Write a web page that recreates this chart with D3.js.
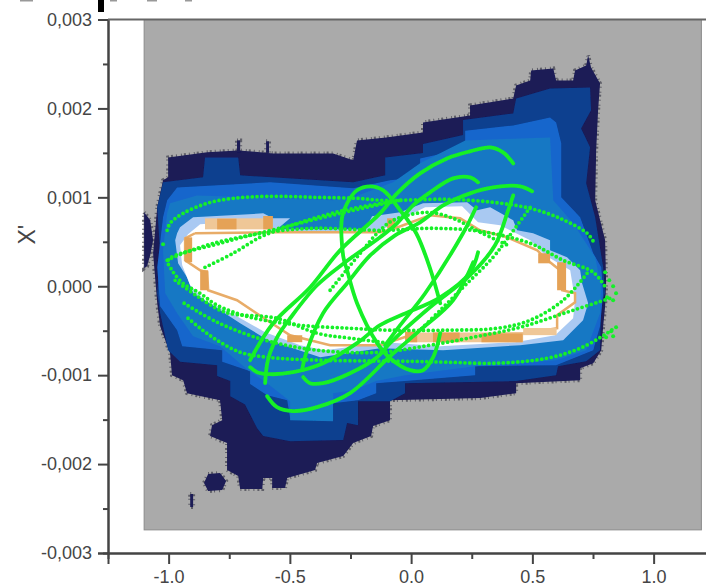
<!DOCTYPE html>
<html>
<head>
<meta charset="utf-8">
<script src="https://cdn.jsdelivr.net/npm/d3@7"></script>
<style>
  html, body { margin: 0; background: #fff; overflow: hidden; }
  svg { display: block; }
  text { font-family: "Liberation Sans", Arial, sans-serif; fill: #454545; }
</style>
</head>
<body>
<svg width="706" height="587"></svg>
<script>
// all positions are [x, X' in units of 0.001]

const xTicks = [-1.0, -0.5, 0.0, 0.5, 1.0];
const xMinorTicks = [-0.75, -0.25, 0.25, 0.75];
const yTicks = [-3, -2, -1, 0, 1, 2, 3];
const yMinorTicks = [-2.5, -1.5, -0.5, 0.5, 1.5, 2.5];
const yLabel = "X'";

// extent of the grey map
const mapX = [-1.101, 1.197];
const mapY = [-2.74, 3];

const levelNavy = [[-1.002,1.449],[-.841,1.506],[-.713,1.528],[-.569,1.494],[-.458,1.494],[-.322,1.494],[-.239,1.416],[-.223,1.64],[-.103,1.674],[.049,1.73],[.049,1.843],[.243,1.921],[.243,2.034],[.421,2.112],[.433,2.258],[.491,2.315],[.495,2.427],[.586,2.449],[.598,2.315],[.668,2.315],[.676,2.427],[.722,2.483],[.73,2.596],[.742,2.461],[.779,2.281],[.771,1.978],[.763,1.528],[.759,.966],[.8,.517],[.804,.034],[.8,-.225],[.792,-.449],[.784,-.719],[.751,-.865],[.697,-.921],[.697,-1.056],[.433,-1.09],[.433,-1.202],[.285,-1.258],[-.087,-1.281],[-.087,-1.506],[-.157,-1.573],[-.165,-1.685],[-.239,-1.764],[-.28,-1.91],[-.388,-1.989],[-.396,-2.067],[-.511,-2.157],[-.52,-2.27],[-.573,-2.27],[-.573,-2.157],[-.61,-2.157],[-.614,-2.281],[-.705,-2.281],[-.713,-2.135],[-.759,-2.067],[-.759,-1.764],[-.829,-1.685],[-.821,-1.562],[-.779,-1.506],[-.788,-1.281],[-.924,-1.202],[-.94,-1.056],[-.986,-1],[-.994,-.753],[-1.035,-.449],[-1.047,-.191],[-1.064,.371],[-1.047,.888],[-1.023,1.191],[-1.002,1.225]];
const navyBulge = [[-1.101,.831],[-1.076,.742],[-1.064,.517],[-1.076,.348],[-1.089,.225],[-1.101,.202]];
const navyBlob = [[-.837,-2.112],[-.788,-2.101],[-.763,-2.191],[-.779,-2.292],[-.837,-2.303],[-.854,-2.213]];
const navyMark = [[-.911,-2.337],[-.899,-2.337],[-.899,-2.483],[-.911,-2.483]];
const navySpikeA = [[-.718,1.64],[-.705,1.64],[-.705,1.5],[-.718,1.5]];
const navySpikeB = [[-.598,1.63],[-.586,1.63],[-.586,1.5],[-.598,1.5]];

const levelDark = [[-1.023,1.169],[-.858,1.225],[-.85,1.449],[-.713,1.449],[-.705,1.247],[-.239,1.169],[-.107,1.247],[-.107,1.449],[.049,1.5],[.049,1.6],[.214,1.7],[.214,1.87],[.421,1.944],[.433,2.112],[.573,2.225],[.738,2.236],[.742,1.978],[.701,1.775],[.738,1.562],[.722,1.157],[.759,.775],[.792,.213],[.8,-.079],[.784,-.191],[.779,-.719],[.722,-.843],[.606,-.899],[.598,-1],[.433,-1.067],[-.025,-1.09],[-.025,-1.202],[-.087,-1.292],[-.219,-1.292],[-.219,-1.562],[-.264,-1.539],[-.28,-1.73],[-.499,-1.742],[-.61,-1.685],[-.635,-1.596],[-.685,-1.33],[-.746,-1.236],[-.746,-1.067],[-.8,-1.01],[-.8,-.888],[-.953,-.85],[-1.002,-.719],[-1.035,-.303],[-1.047,-.079],[-1.035,.371],[-1.047,.888]];

const levelMid = [[-1.006,.966],[-.965,1.112],[-.581,1.169],[-.239,1.101],[-.087,1.191],[.037,1.225],[.037,1.438],[.223,1.55],[.223,1.75],[.421,1.809],[.573,1.899],[.598,1.843],[.619,1.607],[.619,1],[.697,.775],[.751,.371],[.784,.213],[.792,-.079],[.779,-.449],[.751,-.719],[.598,-.888],[.264,-.899],[.264,-1],[-.025,-1.067],[-.144,-1.09],[-.144,-1.202],[-.219,-1.281],[-.322,-1.315],[-.322,-1.506],[-.499,-1.483],[-.511,-1.281],[-.594,-1.225],[-.664,-1.1],[-.664,-.955],[-.779,-.85],[-.779,-.719],[-.944,-.674],[-.965,-.494],[-1.035,-.225],[-1.047,.213],[-1.023,.775]];

const levelBright = [[-.994,.933],[-.883,1.022],[-.322,.966],[-.239,1],[-.074,1.169],[.037,1.382],[.223,1.64],[.573,1.674],[.586,.966],[.668,.708],[.759,.326],[.784,-.011],[.779,-.303],[.722,-.719],[.598,-.831],[.264,-.899],[-.025,-1],[-.144,-1.067],[-.239,-1.169],[-.322,-1.202],[-.322,-1.517],[-.499,-1.506],[-.499,-1.292],[-.594,-1.09],[-.672,-.944],[-.788,-.674],[-.899,-.562],[-.965,-.303],[-1.014,-.079],[-1.023,.404],[-1.006,.82]];

const levelPale = [[-.965,.596],[-.953,.663],[-.899,.775],[-.61,.82],[-.569,.764],[-.499,.764],[-.553,.64],[-.417,.64],[-.19,.64],[-.161,.787],[-.045,.831],[.049,.933],[.231,.944],[.272,.854],[.326,.888],[.421,.742],[.437,.629],[.503,.596],[.573,.517],[.573,.404],[.643,.326],[.697,.18],[.705,.034],[.73,-.191],[.709,-.382],[.627,-.607],[.45,-.663],[.132,-.719],[-.128,-.697],[-.375,-.798],[-.487,-.697],[-.59,-.607],[-.705,-.416],[-.8,-.247],[-.899,-.079],[-.924,.101],[-.961,.258],[-.973,.517]];

const levelWhite = [[-.92,.584],[-.87,.697],[-.614,.742],[-.573,.62],[-.128,.62],[-.066,.719],[.058,.888],[.21,.899],[.276,.719],[.367,.685],[.491,.517],[.553,.348],[.656,.18],[.676,-.157],[.668,-.36],[.594,-.551],[.429,-.629],[.12,-.674],[-.107,-.629],[-.355,-.719],[-.458,-.663],[-.602,-.517],[-.726,-.326],[-.85,-.157],[-.911,.011],[-.944,.236],[-.953,.461]];

const orangeRing = [[-.891,.596],[-.932,.539],[-.932,.292],[-.87,.18],[-.841,.157],[-.837,-.045],[-.718,-.157],[-.594,-.382],[-.499,-.551],[-.334,-.663],[-.128,-.663],[-.016,-.562],[.47,-.528],[.602,-.472],[.602,-.326],[.676,-.18],[.676,-.079],[.623,-.045],[.614,.18],[.573,.27],[.52,.404],[.396,.551],[.284,.629],[.202,.764],[.078,.798],[-.066,.652],[-.128,.607],[-.569,.607],[-.891,.596]];

// [x0, x1, y0, y1]
const paleOrangeBlocks = [[-.85,-.581,.764,.64],[-.016,.462,-.52,-.63],[.462,.6,-.47,-.55]];
const orangeBlocks = [[-.8,-.72,.76,.64],[-.61,-.57,.79,.64],[-.099,-.066,.764,.652],[-.932,-.903,.55,.27],[-.87,-.837,.18,-.045],[-.511,-.449,-.551,-.629],[-.025,.025,-.51,-.63],[.09,.2,-.52,-.63],[.29,.46,-.53,-.63],[.524,.573,.371,.258],[.602,.639,.27,-.045]];

// sampled orbits, dots spaced apart
const orbitA = [[-1.006,.629],[-.994,.708],[-.94,.82],[-.841,.933],[-.734,.989],[-.594,1.011],[-.388,1],[-.223,.989],[-.115,.966],[.148,.978],[.338,.944],[.491,.876],[.614,.764],[.726,.596],[.751,.506]];
const orbitB = [[-.92,-.36],[-.87,-.472],[-.8,-.607],[-.705,-.742],[-.594,-.798],[-.388,-.831],[-.169,-.84],[.008,-.845],[.148,-.854],[.355,-.865],[.561,-.809],[.697,-.697],[.808,-.528],[.841,-.461]];
const orbitC = [[-1.006,.292],[-.94,.371],[-.8,.494],[-.664,.573],[-.528,.629],[-.388,.652],[-.115,.629],[.087,.652],[.285,.618],[.491,.483],[.627,.292],[.751,.157],[.804,-.022]];
const orbitD = [[-.85,.213],[-.734,.371],[-.623,.551],[-.528,.652],[-.388,.775],[-.239,.876],[-.045,.966]];
const orbitE = [[-.045,.966],[-.239,.854],[-.528,.663],[-.788,.483],[-1.002,.292],[-.986,.18],[-.94,.034],[-.87,-.079],[-.8,-.213],[-.664,-.348],[-.458,-.438],[-.252,-.472],[-.087,-.494],[.148,-.494],[.355,-.472],[.491,-.382],[.627,-.157],[.726,.146]];
const orbitF = [[-.973,.067],[-.882,-.112],[-.767,-.292],[-.553,-.36],[-.388,-.528],[-.252,-.584],[-.087,-.64]];
const orbitG = [[-.936,-.191],[-.8,-.404],[-.602,-.607],[-.388,-.719],[-.128,-.742],[.078,-.663],[.256,-.573],[.45,-.461],[.643,-.292],[.821,-.135]];

// sampled orbits, dots running together
const trackA = [[-.594,-1.236],[-.553,-1.36],[-.487,-1.404],[-.388,-1.36],[-.252,-1.202],[-.087,-.787],[.037,-.494],[.173,-.157],[.256,.27]];
const trackB = [[.421,1.382],[.379,1.506],[.326,1.562],[.243,1.517],[.148,1.438],[.037,1.27],[-.058,1.045],[-.128,.82],[-.293,.404],[-.416,-.011],[-.569,-.416],[-.664,-.831]];
const trackC = [[.276,1.169],[.243,1.225],[.173,1.213],[.078,1.056],[.008,.91],[-.058,.708],[-.128,.551],[-.272,.27],[-.388,.011],[-.499,-.36],[-.548,-.551],[-.581,-.742],[-.594,-.876],[-.602,-1.09]];
const trackD = [[.499,1.067],[.45,1.124],[.338,1.112],[.243,1.045],[.132,.91],[.037,.719],[-.066,.573],[-.169,.348],[-.264,.034],[-.363,-.303],[-.429,-.719],[-.45,-.944]];
const trackE = [[-.664,-.91],[-.635,-.966],[-.581,-.989],[-.487,-.966],[-.363,-.865],[-.223,-.64],[-.128,-.438],[-.033,-.315],[.12,-.124],[.243,.157],[.276,.382]];
const trackF = [[-.445,-1.022],[-.417,-1.09],[-.363,-1.09],[-.252,-.978],[-.14,-.798],[-.087,-.64],[.078,-.236],[.243,.124],[.346,.461],[.4,.854],[.421,1.022]];
const trackG = [[.12,-.528],[.091,-.798],[.049,-.944],[-.004,-.944],[-.087,-.809],[-.14,-.64],[-.223,-.191],[-.264,.18],[-.28,.337],[-.285,.775],[-.264,.933],[-.223,1.079],[-.169,1.124],[-.115,1.079],[-.045,.854],[.021,.596],[.078,.202],[.12,-.191]];
const trackH = [[.268,.888],[.214,.596],[.058,-.079],[-.045,-.438],[-.107,-.663]];
const trackI = [[-.334,-.045],[-.21,.371],[-.14,.596],[-.074,.742],[.066,.831],[.173,.764],[.285,.607],[.408,.449]];
const trackJ = [[.491,.888],[.392,.517],[.338,.326],[.223,.011],[.12,-.27],[.037,-.494]];

const turningPoints = [[-1.023,.472],[.8,.157],[.817,.067],[.833,0],[.845,-.079],[.833,-.157],[.808,-.124],[.804,-.573],[.825,-.506],[.845,-.461],[.833,-.562]];

const contourLevels = [levelDark, levelMid, levelBright, levelPale, levelWhite];
const contourColors = ["#0b3f8f", "#1766cc", "#1478c4", "#a9c9f2", "#ffffff"];
const navyParts = [levelNavy, navyBulge, navyBlob, navyMark, navySpikeA, navySpikeB];
const dottedOrbits = [orbitA, orbitB, orbitC, orbitD, orbitE, orbitF, orbitG, trackI, trackJ];
const solidTracks = [trackA, trackB, trackC, trackD, trackE, trackF, trackG, trackH];

const svg = d3.select("svg");
const green = "#14f028";

const xScale = d3.scaleLinear().domain([-1.25, 1.25]).range([108, 714.25]);
const yScale = d3.scaleLinear().domain([-3, 3]).range([553, 19.5]);

// plain hyphen on the minus, comma as the decimal mark on the y axis
const xFormat = (d) => d3.format(".1f")(d).replace("\u2212", "-");
const yFormat = (d) => d3.format(".3f")(d / 1000).replace("\u2212", "-").replace(".", ",");

const polygon = d3
  .line()
  .x((d) => xScale(d[0]))
  .y((d) => yScale(d[1]));

const track = d3
  .line()
  .x((d) => xScale(d[0]))
  .y((d) => yScale(d[1]))
  .curve(d3.curveCatmullRom.alpha(0.5));

// the source is a soft scan, take the hard edges off
svg
  .append("defs")
  .append("filter")
  .attr("id", "soft")
  .append("feGaussianBlur")
  .attr("stdDeviation", 0.55);

drawMap();
drawOrbits();
drawAxes();
drawCroppedTitle();

function drawMap() {
  const map = svg.append("g").attr("filter", "url(#soft)");

  map
    .append("rect")
    .attr("x", xScale(mapX[0]))
    .attr("y", yScale(mapY[1]))
    .attr("width", xScale(mapX[1]) - xScale(mapX[0]))
    .attr("height", yScale(mapY[0]) - yScale(mapY[1]))
    .attr("fill", "#aaaaaa")
    .attr("stroke", "#8c8c8c");

  // speckled rim round the outermost level
  map
    .selectAll("path.rim")
    .data(navyParts)
    .enter()
    .append("path")
    .attr("class", "rim")
    .attr("d", (d) => polygon(d) + "Z")
    .attr("fill", "none")
    .attr("stroke", "#5f5f68")
    .attr("stroke-width", 4)
    .attr("stroke-dasharray", "1 2 2 3 1 4");

  map
    .selectAll("path.navy")
    .data(navyParts)
    .enter()
    .append("path")
    .attr("class", "navy")
    .attr("d", (d) => polygon(d) + "Z")
    .attr("fill", "#1a1a56");

  map
    .selectAll("path.level")
    .data(contourLevels)
    .enter()
    .append("path")
    .attr("class", "level")
    .attr("d", (d) => polygon(d) + "Z")
    .attr("fill", (d, i) => contourColors[i]);

  map
    .append("path")
    .attr("d", polygon(orangeRing))
    .attr("fill", "none")
    .attr("stroke", "#e8ac68")
    .attr("stroke-width", 2.5);

  drawBlocks(map, paleOrangeBlocks, "#efc797");
  drawBlocks(map, orangeBlocks, "#e5a257");
}

function drawBlocks(group, blocks, color) {
  group
    .selectAll(null)
    .data(blocks)
    .enter()
    .append("rect")
    .attr("x", (d) => xScale(d[0]))
    .attr("y", (d) => yScale(d[2]))
    .attr("width", (d) => xScale(d[1]) - xScale(d[0]))
    .attr("height", (d) => yScale(d[3]) - yScale(d[2]))
    .attr("fill", color);
}

function drawOrbits() {
  const orbits = svg
    .append("g")
    .attr("fill", "none")
    .attr("stroke", green)
    .attr("stroke-linecap", "round")
    .attr("filter", "url(#soft)");

  orbits
    .selectAll("path.dotted")
    .data(dottedOrbits)
    .enter()
    .append("path")
    .attr("class", "dotted")
    .attr("d", track)
    .attr("stroke-width", 3.8)
    .attr("stroke-dasharray", "0 4.8");

  orbits
    .selectAll("path.solid")
    .data(solidTracks)
    .enter()
    .append("path")
    .attr("class", "solid")
    .attr("d", track)
    .attr("stroke-width", 3.8);

  svg
    .append("g")
    .selectAll("circle")
    .data(turningPoints)
    .enter()
    .append("circle")
    .attr("cx", (d) => xScale(d[0]))
    .attr("cy", (d) => yScale(d[1]))
    .attr("r", 2)
    .attr("fill", green);
}

function drawAxes() {
  const axisColor = "#444";

  // minor ticks go in first so the labelled axis sits on top
  const xMinor = svg
    .append("g")
    .attr("transform", "translate(0,553)")
    .call(d3.axisBottom(xScale).tickValues(xMinorTicks).tickSize(6).tickFormat(""));
  const yMinor = svg
    .append("g")
    .attr("transform", "translate(108,0)")
    .call(d3.axisLeft(yScale).tickValues(yMinorTicks).tickSize(5).tickFormat(""));

  const xAxis = svg
    .append("g")
    .attr("transform", "translate(0,553)")
    .call(d3.axisBottom(xScale).tickValues(xTicks).tickSize(11).tickPadding(6).tickFormat(xFormat));
  const yAxis = svg
    .append("g")
    .attr("transform", "translate(108,0)")
    .call(d3.axisLeft(yScale).tickValues(yTicks).tickSize(10).tickPadding(6).tickFormat(yFormat));

  [xMinor, yMinor, xAxis, yAxis].forEach((axis) => {
    axis.selectAll("path").attr("stroke", axisColor).attr("stroke-width", 2);
    axis.selectAll("line").attr("stroke", axisColor).attr("stroke-width", 2);
    axis.selectAll("text").style("font-size", "18px").attr("fill", "#454545");
  });

  // frame along the top
  svg
    .append("line")
    .attr("x1", xScale(-1.25))
    .attr("x2", 706)
    .attr("y1", yScale(3))
    .attr("y2", yScale(3))
    .attr("stroke", "#666")
    .attr("stroke-width", 2);

  svg
    .append("text")
    .attr("transform", `translate(35,${yScale(0.58)}) rotate(-90)`)
    .attr("text-anchor", "middle")
    .style("font-size", "23px")
    .text(yLabel);
}

function drawCroppedTitle() {
  // what is left of a title cut off by the top of the image
  svg.append("rect").attr("x", 98).attr("y", 0).attr("width", 6).attr("height", 12).attr("fill", "#000");
  [[20, 13], [110, 7], [147, 10], [185, 7]].forEach((d) => {
    svg.append("rect").attr("x", d[0]).attr("y", 0).attr("width", d[1]).attr("height", 1.5).attr("fill", "#999");
  });
}
</script>
</body>
</html>
